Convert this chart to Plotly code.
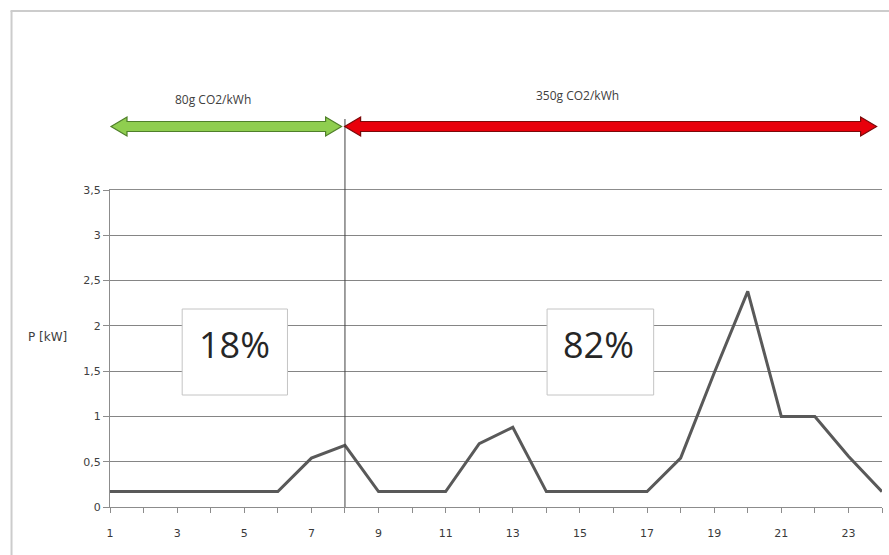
import plotly.graph_objects as go

# ---- data ----
hours = list(range(1, 25))
power_kw = [0.17, 0.17, 0.17, 0.17, 0.17, 0.17, 0.54, 0.68, 0.17, 0.17, 0.17, 0.70,
            0.88, 0.17, 0.17, 0.17, 0.17, 0.54, 1.48, 2.38, 1.00, 1.00, 0.56, 0.17]
x_tick_vals = [1, 3, 5, 7, 9, 11, 13, 15, 17, 19, 21, 23]
x_tick_text = ["1", "3", "5", "7", "9", "11", "13", "15", "17", "19", "21", "23"]
split_hour = 8
low_label = "80g CO2/kWh"
high_label = "350g CO2/kWh"
low_share = "18%"
high_share = "82%"

# ---- layout geometry (pixels) ----
W, H = 889, 555
ML, MR, MT, MB = 109.5, 889 - 881.7, 190, 48
PW = W - ML - MR
PH = H - MT - MB
XMIN, XMAX = 1, 24


def px(xp):
    return (xp - ML) / PW


def py(yp):
    return (H - MB - yp) / PH


def xd(v):  # data x -> paper x
    return (v - XMIN) / (XMAX - XMIN)


fig = go.Figure()
fig.add_trace(go.Scatter(x=hours, y=power_kw, mode="lines",
                         line=dict(color="#595959", width=3), hoverinfo="skip",
                         showlegend=False))

shapes = []
# outer chart frame (left and top)
shapes.append(dict(type="line", xref="paper", yref="paper", x0=px(11), x1=px(11),
                   y0=py(11), y1=py(H + 2), line=dict(color="#cccccc", width=2)))
shapes.append(dict(type="line", xref="paper", yref="paper", x0=px(10), x1=px(W + 2),
                   y0=py(11), y1=py(11), line=dict(color="#cccccc", width=2)))

# vertical split line
shapes.append(dict(type="line", xref="x", yref="paper", x0=split_hour, x1=split_hour,
                   y0=0, y1=py(119), line=dict(color="#404040", width=1), layer="above"))


def dbl_arrow(xl, xr, yc, shaft=5, head=9.5, hl=16):
    pts = [(xl, yc), (xl + hl, yc - head), (xl + hl, yc - shaft),
           (xr - hl, yc - shaft), (xr - hl, yc - head), (xr, yc), (xr - hl, yc + head),
           (xr - hl, yc + shaft), (xl + hl, yc + shaft), (xl + hl, yc + head)]
    return "M " + " L ".join(f"{px(a):.5f},{py(b):.5f}" for a, b in pts) + " Z"


green_l = ML + xd(1.0) * PW + 1
green_r = ML + xd(7.9) * PW
red_l = ML + xd(7.99) * PW
red_r = ML + xd(23.84) * PW
shapes.append(dict(type="path", xref="paper", yref="paper",
                   path=dbl_arrow(green_l, green_r, 126.5),
                   fillcolor="#8fce4f", line=dict(color="#4f7f2a", width=1.2)))
shapes.append(dict(type="path", xref="paper", yref="paper",
                   path=dbl_arrow(red_l, red_r, 126.5),
                   fillcolor="#e8000b", line=dict(color="#7a0a0a", width=1.2)))

# percentage boxes
shapes.append(dict(type="rect", xref="paper", yref="paper", x0=px(181.7), x1=px(287),
                   y0=py(395), y1=py(309), fillcolor="white",
                   line=dict(color="#c4c4c4", width=1), layer="above"))
shapes.append(dict(type="rect", xref="paper", yref="paper", x0=px(546.7), x1=px(653.3),
                   y0=py(395), y1=py(309), fillcolor="white",
                   line=dict(color="#c4c4c4", width=1), layer="above"))


def label(text, xp, yp, size, color, family):
    return dict(text=text, x=px(xp), y=py(yp), xref="paper", yref="paper",
                xanchor="center", yanchor="middle", showarrow=False,
                font=dict(size=size, color=color, family=family))


annotations = [
    label(low_label, 213, 99, 12, "#404040", "Open Sans"),
    label(high_label, 577, 95, 12, "#404040", "Open Sans"),
    label(low_share, 234, 344, 36, "#262626", "Open Sans"),
    label(high_share, 598, 344, 36, "#262626", "Open Sans"),
    label("P [kW]", 47, 337, 12, "#404040", "DejaVu Sans"),
]

fig.update_layout(
    width=W, height=H,
    margin=dict(l=ML, r=MR, t=MT, b=MB, pad=0),
    paper_bgcolor="white", plot_bgcolor="white",
    separators=", ",
    shapes=shapes, annotations=annotations,
    showlegend=False,
    xaxis=dict(range=[XMIN, XMAX], tickvals=x_tick_vals, ticktext=x_tick_text,
               showgrid=False, zeroline=False, showline=True, linecolor="#8c8c8c",
               mirror=True,
               linewidth=1, ticks="outside", ticklen=5, tickcolor="#8c8c8c",
               ticklabelstandoff=11,
               minor=dict(ticks="outside", ticklen=5, dtick=1, tick0=1, tickcolor="#8c8c8c",
                          showgrid=False),
               tickfont=dict(size=11, color="#3a3a3a", family="DejaVu Sans")),
    yaxis=dict(range=[0, 3.5], dtick=0.5, tick0=0, showgrid=True, gridcolor="#858585",
               gridwidth=1, zeroline=False, showline=True, linecolor="#8c8c8c",
               ticks="outside", ticklen=6, tickcolor="#8c8c8c",
               tickfont=dict(size=11, color="#404040", family="DejaVu Sans")),
)

fig.write_html("out.html")
